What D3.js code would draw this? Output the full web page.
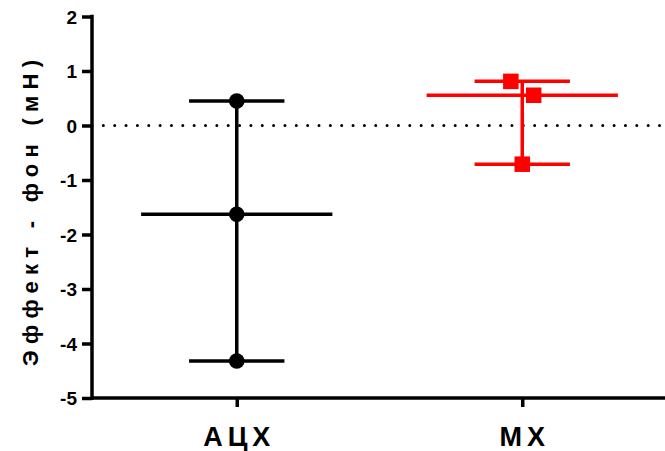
<!DOCTYPE html>
<html>
<head>
<meta charset="utf-8">
<script src="https://cdn.jsdelivr.net/npm/d3@7/dist/d3.min.js"></script>
<style>
  html, body { margin: 0; padding: 0; background: #fff; }
  text { font-family: "Liberation Sans", Arial, sans-serif; font-weight: bold; }
</style>
</head>
<body>
<svg id="chart" width="665" height="451"></svg>
<script>
// ---- data ----
const categories = ["АЦХ", "МХ"];
const acxValues = [0.45, -1.63, -4.32];
const mxValues = [0.81, 0.555, -0.71];
const yTicks = [-5, -4, -3, -2, -1, 0, 1, 2];
const yTitle = "Эффект - фон (мН)";

const series = [
  { name: categories[0], values: acxValues, color: "#000000", shape: "circle" },
  { name: categories[1], values: mxValues, color: "#ff0000", shape: "square" }
];

// ---- layout ----
const svg = d3.select("#chart");
const plotLeft = 92, plotRight = 665, plotTop = 16.5, plotBottom = 398;
const lw = 3.5;

const y = d3.scaleLinear().domain([-5, 2]).range([plotBottom, plotTop]);
const x = d3.scalePoint().domain(categories).range([94, 665]).padding(0.5);
const step = x.step();

// zero dotted line
svg.append("line")
  .attr("x1", plotLeft).attr("x2", plotRight)
  .attr("y1", y(0)).attr("y2", y(0))
  .attr("stroke", "#000").attr("stroke-width", 3)
  .attr("stroke-linecap", "round")
  .attr("stroke-dasharray", "0,11.35");

// jitter for overlapping points (fraction of step)
const jitter = { "МХ": [-0.04, 0.04, 0], "АЦХ": [0, 0, 0] };

series.forEach(s => {
  const cx = x(s.name);
  const med = d3.median(s.values), mn = d3.min(s.values), mx = d3.max(s.values);
  const g = svg.append("g");
  const capHalf = step * 0.167, medHalf = step * 0.335;
  g.append("line").attr("x1", cx).attr("x2", cx).attr("y1", y(mx)).attr("y2", y(mn))
    .attr("stroke", s.color).attr("stroke-width", lw);
  [mx, mn].forEach(v => {
    g.append("line").attr("x1", cx - capHalf).attr("x2", cx + capHalf)
      .attr("y1", y(v)).attr("y2", y(v)).attr("stroke", s.color).attr("stroke-width", lw);
  });
  g.append("line").attr("x1", cx - medHalf).attr("x2", cx + medHalf)
    .attr("y1", y(med)).attr("y2", y(med)).attr("stroke", s.color).attr("stroke-width", lw);
  s.values.forEach((v, i) => {
    const px = cx + jitter[s.name][i] * step;
    if (s.shape === "circle") {
      g.append("circle").attr("cx", px).attr("cy", y(v)).attr("r", 7.8).attr("fill", s.color);
    } else {
      const sz = 15.5;
      g.append("rect").attr("x", px - sz / 2).attr("y", y(v) - sz / 2)
        .attr("width", sz).attr("height", sz).attr("fill", s.color);
    }
  });
});

// y axis
const yAxis = svg.append("g").attr("transform", `translate(${plotLeft},0)`)
  .call(d3.axisLeft(y).tickValues(yTicks).tickSize(10).tickPadding(5).tickFormat(d3.format("d")));
yAxis.select(".domain").attr("d", `M0,${plotTop}V${plotBottom}`).attr("stroke", "#000").attr("stroke-width", lw).attr("stroke-linecap", "square");
yAxis.selectAll(".tick line").attr("stroke", "#000").attr("stroke-width", lw);
yAxis.selectAll(".tick text")
  .style("font-size", "19px").style("font-weight", "bold")
  .style("font-family", "'Liberation Sans', Arial, sans-serif")
  .attr("fill", "#000").attr("dy", "0.36em")
  .text(d => d < 0 ? "-" + Math.abs(d) : d);

// x axis
const xAxis = svg.append("g").attr("transform", `translate(0,${plotBottom})`)
  .call(d3.axisBottom(x).tickSize(9).tickPadding(0));
xAxis.select(".domain").attr("d", `M${plotLeft},0H${plotRight}`).attr("stroke", "#000").attr("stroke-width", lw);
xAxis.selectAll(".tick line").attr("stroke", "#000").attr("stroke-width", lw);
xAxis.selectAll(".tick text").remove();
xAxis.selectAll(".tick").append("text")
  .attr("y", 48).attr("x", 2).attr("text-anchor", "middle").attr("fill", "#000")
  .style("font-size", "27px").style("font-weight", "bold").style("letter-spacing", "5px")
  .text(d => d);

// y title
svg.append("text")
  .attr("transform", `translate(38,${(60 + 366) / 2}) rotate(-90)`)
  .attr("text-anchor", "middle").attr("fill", "#000")
  .style("font-size", "22px").style("font-weight", "bold")
  .attr("textLength", 306).attr("lengthAdjust", "spacing")
  .text(yTitle);
</script>
</body>
</html>
